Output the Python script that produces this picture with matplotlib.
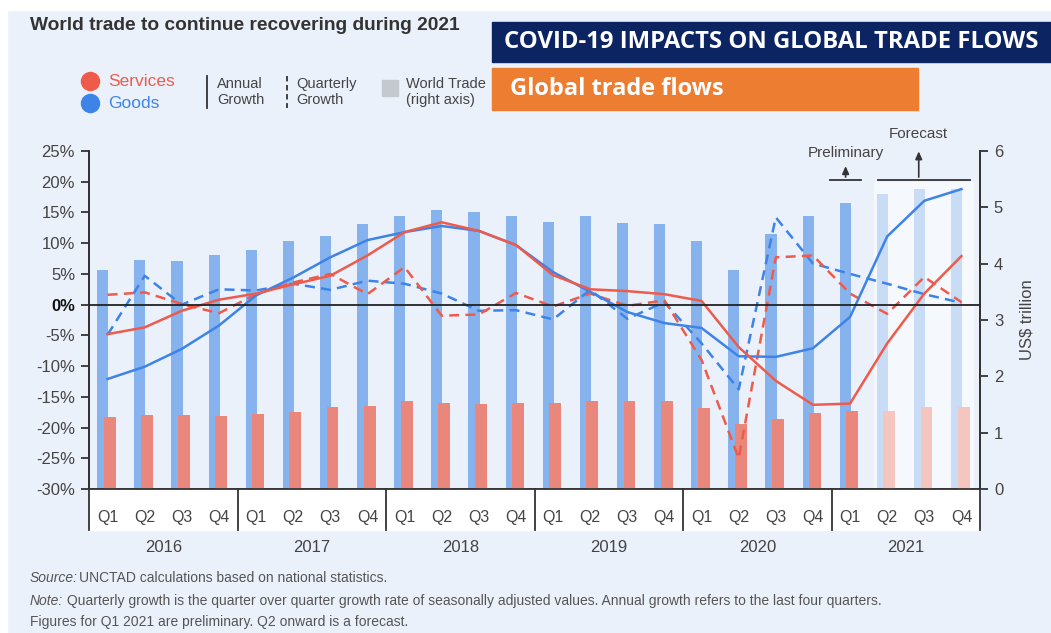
import matplotlib.pyplot as plt
from matplotlib.patches import Rectangle
from matplotlib.lines import Line2D
import matplotlib.transforms as mtransforms

# Data (quarters 2016 Q1 .. 2021 Q4)
quarters = ["Q1", "Q2", "Q3", "Q4"] * 6
years = ["2016", "2017", "2018", "2019", "2020", "2021"]

# World trade values, US$ trillion (right axis)
goods_value = [3.88, 4.06, 4.05, 4.15, 4.25, 4.40, 4.50, 4.70, 4.85, 4.95, 4.91, 4.85,
               4.74, 4.84, 4.73, 4.71, 4.41, 3.88, 4.53, 4.84, 5.08, 5.24, 5.33, 5.33]
services_value = [1.28, 1.31, 1.31, 1.30, 1.33, 1.37, 1.45, 1.47, 1.57, 1.53, 1.51, 1.53,
                  1.53, 1.57, 1.57, 1.57, 1.44, 1.16, 1.25, 1.35, 1.38, 1.38, 1.45, 1.45]

# Growth rates, % (left axis)
goods_annual = [-12.1, -10.1, -7.2, -3.4, 1.5, 4.4, 7.7, 10.5, 11.8, 12.8, 12.0, 9.7,
                5.3, 2.1, -1.2, -3.0, -3.8, -8.4, -8.5, -7.1, -2.0, 11.1, 16.9, 18.8]
services_annual = [-4.8, -3.7, -1.0, 0.8, 1.8, 3.3, 4.7, 8.0, 11.8, 13.4, 12.0, 9.7,
                   4.8, 2.5, 2.2, 1.7, 0.6, -6.9, -12.4, -16.3, -16.1, -6.3, 1.8, 7.9]
goods_quarterly = [-4.9, 4.7, 0.0, 2.5, 2.3, 3.4, 2.4, 3.9, 3.4, 1.8, -1.0, -0.9,
                   -2.4, 2.4, -2.3, 0.4, -6.3, -13.8, 14.2, 6.7, 5.0, 3.4, 1.7, 0.3]
services_quarterly = [1.6, 2.0, 0.1, -1.4, 1.7, 3.6, 5.0, 1.7, 6.1, -1.8, -1.6, 1.9,
                      -0.3, 1.8, -0.2, 0.7, -9.0, -25.0, 7.7, 8.0, 1.8, -1.5, 4.5, 0.4]

n_forecast = 3  # last three quarters are a forecast

# colours
bg = "#ebf1fb"
blue_bar, blue_bar_fc = "#86b3ee", "#c8dcf6"
red_bar, red_bar_fc = "#e9877c", "#f5c5bf"
blue_line, red_line = "#3d83e8", "#ef5b4b"
axis_col = "#333333"
text_col = "#444444"

plt.rcParams["font.family"] = ["Liberation Sans Narrow", "Liberation Sans", "DejaVu Sans"]

W, H = 1051, 633
fig = plt.figure(figsize=(W / 100, H / 100), dpi=100, facecolor=bg)

def fx(px):
    return px / W

def fy(py):
    return 1 - py / H

# white strips at top/left edge
fig.patches.append(Rectangle((0, fy(10)), 1, 1, transform=fig.transFigure, color="white", zorder=0))
fig.patches.append(Rectangle((0, 0), fx(7), 1, transform=fig.transFigure, color="white", zorder=0))

ax = fig.add_axes([fx(89), fy(489), fx(980) - fx(89), fy(151) - fy(489)])
ax2 = ax.twinx()
ax.set_zorder(ax2.get_zorder() + 1)
ax.patch.set_visible(False)
ax2.patch.set_visible(False)

n = len(quarters)
x = list(range(n))

# forecast band
ax2.add_patch(Rectangle((20.65, 0), 2.7, 5.45, color="white", alpha=0.55, lw=0, zorder=0))

# bars
bcols = [blue_bar] * (n - n_forecast) + [blue_bar_fc] * n_forecast
rcols = [red_bar] * (n - n_forecast) + [red_bar_fc] * n_forecast
ax2.bar([i - 0.13 for i in x], goods_value, width=0.3, color=bcols, zorder=2)
ax2.bar([i + 0.06 for i in x], services_value, width=0.32, color=rcols, zorder=3)

# lines
ax.plot(x, goods_annual, color=blue_line, lw=1.8, zorder=5)
ax.plot(x, services_annual, color=red_line, lw=1.8, zorder=5)
ax.plot(x, goods_quarterly, color=blue_line, lw=1.8, ls=(0, (4, 2.5)), zorder=4)
ax.plot(x, services_quarterly, color=red_line, lw=1.8, ls=(0, (4, 2.5)), zorder=4)
ax.axhline(0, color="#222222", lw=1.3, zorder=6)

ax.set_xlim(-0.5, n - 0.5)
ax.set_ylim(-30, 25)
ax2.set_ylim(0, 6)

yt = list(range(-30, 30, 5))
ax.set_yticks(yt)
ax.set_yticklabels([f"{v}%" for v in yt], fontsize=12, color=text_col)
for lab in ax.get_yticklabels():
    if lab.get_text() == "0%":
        lab.set_fontweight("bold")
        lab.set_color("#111111")
ax2.set_yticks(range(0, 7))
ax2.set_yticklabels([str(v) for v in range(0, 7)], fontsize=12, color=text_col)
ax2.set_ylabel("US$ trillion", fontsize=12, color=text_col, labelpad=12)

for a in (ax, ax2):
    a.set_xticks([])
    a.spines["top"].set_visible(False)
    for s in ("left", "right", "bottom"):
        a.spines[s].set_color(axis_col)
        a.spines[s].set_linewidth(1.3)
    a.tick_params(axis="y", length=6, width=1.3, color=axis_col, pad=4)

# quarter/year labels below the axis
trans = mtransforms.blended_transform_factory(ax.transData, ax.transAxes)
ax.add_patch(Rectangle((-0.5, -0.1213), n, 0.1213, transform=trans, color="white",
                       clip_on=False, zorder=0))
for i, q in enumerate(quarters):
    ax.text(i, -0.083, q, transform=trans, ha="center", va="center", fontsize=11.5,
            color=text_col, clip_on=False)
for k, yr in enumerate(years):
    ax.text(4 * k + 1.5, -0.1716, yr, transform=trans, ha="center", va="center",
            fontsize=12, color=text_col, clip_on=False)
for k in range(len(years) + 1):
    ax.add_line(Line2D([4 * k - 0.5] * 2, [0, -0.1213], transform=trans, color=axis_col,
                       lw=1.3, clip_on=False))

# preliminary / forecast markers
arrow = dict(arrowstyle="-|>,head_length=0.45,head_width=0.2", color=axis_col, lw=1.2)
ax.plot([19.45, 20.3], [20.3, 20.3], color=axis_col, lw=1.3, clip_on=False, zorder=7)
ax.annotate("", xy=(19.88, 23.0), xytext=(19.88, 20.3), arrowprops=arrow,
            annotation_clip=False)
ax.text(19.88, 24.6, "Preliminary", ha="center", va="center", fontsize=11, color=text_col,
        clip_on=False)
ax.plot([20.74, 23.23], [20.3, 20.3], color=axis_col, lw=1.3, clip_on=False, zorder=7)
ax.annotate("", xy=(21.85, 25.4), xytext=(21.85, 20.3), arrowprops=arrow,
            annotation_clip=False)
ax.text(21.85, 27.8, "Forecast", ha="center", va="center", fontsize=11, color=text_col,
        clip_on=False)

# title
fig.text(fx(30), fy(25), "World trade to continue recovering during 2021", fontsize=13.8,
         fontweight="bold", color="#333333", ha="left", va="center")

# header boxes
fig.patches.append(Rectangle((fx(492), fy(62)), fx(W - 492), fy(22) - fy(62),
                             transform=fig.transFigure, color="#0c2461", zorder=1))
fig.text(fx(504), fy(42), "COVID-19 IMPACTS ON GLOBAL TRADE FLOWS", family="Open Sans",
         fontsize=17.2, fontweight="bold", color="white", ha="left", va="center", zorder=2)
fig.patches.append(Rectangle((fx(492), fy(110)), fx(918) - fx(492), fy(68) - fy(110),
                             transform=fig.transFigure, color="#ed7d31", zorder=1))
fig.text(fx(510), fy(89), "Global trade flows", family="Open Sans",
         fontsize=17, fontweight="bold", color="white", ha="left", va="center", zorder=2)

# legend
fig.lines.append(Line2D([fx(90)], [fy(81)], transform=fig.transFigure, marker="o",
                        markersize=13, color=red_line, lw=0))
fig.lines.append(Line2D([fx(90)], [fy(103)], transform=fig.transFigure, marker="o",
                        markersize=13, color=blue_line, lw=0))
fig.text(fx(108), fy(81), "Services", fontsize=12.5, color=red_line, va="center")
fig.text(fx(108), fy(103), "Goods", fontsize=12.5, color=blue_line, va="center")
fig.lines.append(Line2D([fx(207)] * 2, [fy(76), fy(108)], transform=fig.transFigure,
                        color=axis_col, lw=1.3))
fig.text(fx(217), fy(92), "Annual\nGrowth", fontsize=10.5, color=text_col, va="center",
         linespacing=1.1)
fig.lines.append(Line2D([fx(287)] * 2, [fy(76), fy(108)], transform=fig.transFigure,
                        color=axis_col, lw=1.3, ls=(0, (3, 2))))
fig.text(fx(296), fy(92), "Quarterly\nGrowth", fontsize=10.5, color=text_col, va="center",
         linespacing=1.1)
fig.patches.append(Rectangle((fx(382), fy(96)), 16 / W, 16 / H, transform=fig.transFigure,
                             color="#c4c8cf"))
fig.text(fx(406), fy(92), "World Trade\n(right axis)", fontsize=10.5, color=text_col,
         va="center", linespacing=1.1)

# footnotes
fig.text(fx(30), fy(578), "Source:", fontsize=10, style="italic", color="#555555", va="center")
fig.text(fx(79), fy(578), "UNCTAD calculations based on national statistics.", fontsize=10,
         color="#555555", va="center")
fig.text(fx(30), fy(601), "Note:", fontsize=10, style="italic", color="#555555", va="center")
fig.text(fx(67), fy(601), "Quarterly growth is the quarter over quarter growth rate of seasonally "
         "adjusted values. Annual growth refers to the last four quarters.", fontsize=10,
         color="#555555", va="center")
fig.text(fx(30), fy(622), "Figures for Q1 2021 are preliminary. Q2 onward is a forecast.",
         fontsize=10, color="#555555", va="center")

fig.savefig("out.png", dpi=100, facecolor=bg)
